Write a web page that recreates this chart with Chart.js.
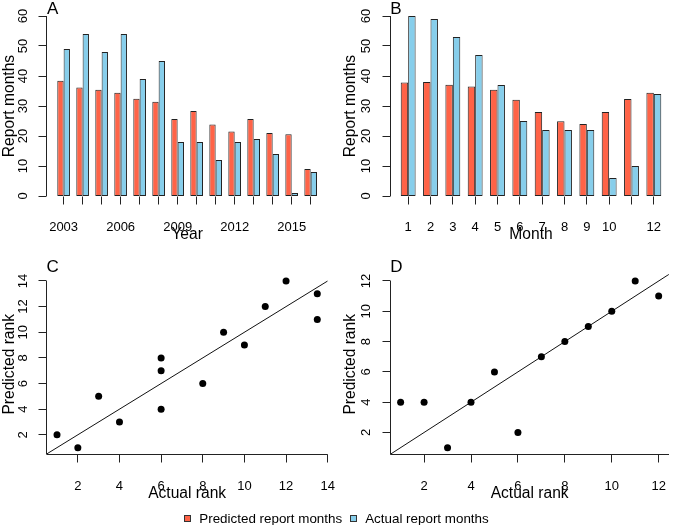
<!DOCTYPE html>
<html>
<head>
<meta charset="utf-8">
<script src="https://cdn.jsdelivr.net/npm/chart.js@4/dist/chart.umd.min.js"></script>
<style>
html, body { margin: 0; padding: 0; background: #fff; }
#wrap { position: relative; width: 673px; height: 525px; overflow: hidden; }
#wrap canvas { position: absolute; left: 0; top: 0; }
#legend { position: absolute; left: 0; top: 509px; width: 673px; height: 18px; display: flex; justify-content: center; align-items: center;
  font: 13.4px 'Liberation Sans', Arial, Helvetica, sans-serif; color: #000; white-space: nowrap; }
#legend .item { display: flex; align-items: center; margin: 0 4px; }
#legend .sw { width: 5px; height: 5px; border: 1px solid #333; margin-right: 8px; }
</style>
</head>
<body>
<div id="wrap">
  <canvas id="cA" width="673" height="525"></canvas>
  <canvas id="cB" width="673" height="525"></canvas>
  <canvas id="cC" width="673" height="525"></canvas>
  <canvas id="cD" width="673" height="525"></canvas>
  <div id="legend"></div>
</div>
<script>
// ---------------- data ----------------
const years = ['2003','2004','2005','2006','2007','2008','2009','2010','2011','2012','2013','2014','2015','2016'];
const yearTickLabels = ['2003','','','2006','','','2009','','','2012','','','2015',''];
const predictedByYear = [38.4, 36.2, 35.4, 34.4, 32.4, 31.4, 25.7, 28.3, 23.8, 21.5, 25.7, 21.0, 20.6, 9.0];
const actualByYear    = [49, 54, 48, 54, 39, 45, 18, 18, 12, 18, 19, 14, 1, 8];

const months = ['1','2','3','4','5','6','7','8','9','10','11','12'];
const monthTickLabels = ['1','2','3','4','5','6','7','8','9','10','','12'];
const predictedByMonth = [37.8, 38.0, 37.1, 36.5, 35.4, 32.1, 28.0, 24.9, 24.0, 28.0, 32.3, 34.4];
const actualByMonth    = [60, 59, 53, 47, 37, 25, 22, 22, 22, 6, 10, 34];

const barValueTicks = [0, 10, 20, 30, 40, 50, 60];

const yearRankActual    = [1, 2, 3, 4, 6, 6, 6, 8, 9, 10, 11, 12, 13.5, 13.5];
const yearRankPredicted = [2, 1, 5, 3, 4, 7, 8, 6, 10, 9, 12, 14, 13, 11];
const yearRankTicks = [2, 4, 6, 8, 10, 12, 14];

const monthRankActual    = [1, 2, 3, 4, 5, 6, 7, 8, 9, 10, 11, 12];
const monthRankPredicted = [4, 4, 1, 4, 6, 2, 7, 8, 9, 10, 12, 11];
const monthRankTicks = [2, 4, 6, 8, 10, 12];

const seriesNames = ['Predicted report months', 'Actual report months'];

// ---------------- axis limits (R-style 4% extension) ----------------
const limA = { x: [-0.88, 13.88], y: [0, 60] };
const limB = { x: [-0.8, 11.8],  y: [0, 60] };
const limC = { x: [0.5, 14.0],   y: [0.48, 14.52] };
const limD = { x: [0.56, 12.44], y: [0.56, 12.44] };

// ---------------- styling ----------------
const FONT = "'Liberation Sans', Arial, Helvetica, sans-serif";
const RED = '#FF6347';
const BLUE = '#87CEEB';
const INK = '#222';
const TICK = 8;

function alignPx(v) { return Math.round(v - 0.5) + 0.5; }

// R-like axes: axis lines, tick marks, rotated y labels, panel letter
const rStyle = {
  id: 'rStyle',
  afterDraw(chart, args, o) {
    const ctx = chart.ctx, ca = chart.chartArea;
    const xs = chart.scales.x, ys = chart.scales.y;
    const xL = alignPx(ca.left), yB = alignPx(ca.bottom);
    ctx.save();
    ctx.strokeStyle = INK; ctx.lineWidth = 1;
    ctx.beginPath();
    if (o.yLine) {
      ctx.moveTo(xL, ys.getPixelForValue(o.yLine[0]));
      ctx.lineTo(xL, ys.getPixelForValue(o.yLine[1]));
    }
    if (o.xLine) {
      ctx.moveTo(xs.getPixelForValue(o.xLine[0]), yB);
      ctx.lineTo(xs.getPixelForValue(o.xLine[1]), yB);
    }
    ys.ticks.forEach(t => {
      const p = alignPx(ys.getPixelForValue(t.value));
      ctx.moveTo(xL - TICK, p); ctx.lineTo(xL, p);
    });
    xs.ticks.forEach(t => {
      const p = alignPx(xs.getPixelForValue(t.value));
      ctx.moveTo(p, yB); ctx.lineTo(p, yB + TICK);
    });
    ctx.stroke();
    // rotated y tick labels (parallel to axis)
    ctx.fillStyle = '#000';
    ctx.font = '13px ' + FONT;
    ctx.textAlign = 'center';
    ctx.textBaseline = 'middle';
    ys.ticks.forEach(t => {
      const p = ys.getPixelForValue(t.value);
      ctx.save();
      ctx.translate(ca.left - 23.4, p);
      ctx.rotate(-Math.PI / 2);
      ctx.fillText(String(t.value), 0, 0);
      ctx.restore();
    });
    // panel letter
    ctx.font = '17px ' + FONT;
    ctx.textAlign = 'left';
    ctx.textBaseline = 'alphabetic';
    ctx.fillText(o.letter, ca.left, ca.top - 2.3);
    ctx.restore();
  }
};

function makeScales(c) {
  const gridOpt = { display: false, offset: false };
  return {
    x: {
      type: 'linear', min: c.lim.x[0], max: c.lim.x[1], offset: false,
      afterBuildTicks: s => { s.ticks = c.xTicks.map(v => ({ value: v })); },
      afterFit: s => { s.height = 48.4; s.paddingLeft = 0; s.paddingRight = 0; },
      ticks: {
        autoSkip: false, maxRotation: 0, minRotation: 0, padding: 16, color: '#000',
        font: { family: FONT, size: 13 },
        callback: (v, i) => c.xLabels ? c.xLabels[i] : String(v)
      },
      grid: gridOpt,
      border: { display: false },
      title: { display: true, text: c.xTitle, color: '#000', font: { family: FONT, size: 15.6 }, padding: 0 }
    },
    y: {
      type: 'linear', min: c.lim.y[0], max: c.lim.y[1], offset: false,
      afterBuildTicks: s => { s.ticks = c.yTicks.map(v => ({ value: v })); },
      afterFit: s => { s.width = c.yAxisW; s.paddingTop = 0; s.paddingBottom = 0; },
      ticks: { display: false },
      grid: gridOpt,
      border: { display: false },
      title: { display: true, text: c.yTitle, color: '#000', font: { family: FONT, size: 15.6 }, padding: 0 }
    }
  };
}

function baseOptions(c) {
  return {
    responsive: false,
    animation: false,
    devicePixelRatio: 1,
    events: [],
    layout: { padding: c.pad },
    scales: makeScales(c),
    plugins: {
      legend: { display: false },
      tooltip: { enabled: false },
      rStyle: { letter: c.letter, xLine: c.xLine, yLine: c.yLine }
    }
  };
}

function barChart(id, c, pred, act) {
  const barDs = (label, vals, color) => ({
    label, backgroundColor: color, borderColor: INK, borderWidth: 1, borderSkipped: false,
    categoryPercentage: 2 / 3, barPercentage: 1,
    data: vals.map((v, i) => ({ x: i, y: v }))
  });
  return new Chart(document.getElementById(id), {
    type: 'bar',
    data: { datasets: [barDs(seriesNames[0], pred, RED), barDs(seriesNames[1], act, BLUE)] },
    options: baseOptions(c),
    plugins: [rStyle]
  });
}

function rankChart(id, c, actual, predicted) {
  return new Chart(document.getElementById(id), {
    type: 'scatter',
    data: {
      datasets: [
        { data: actual.map((a, i) => ({ x: a, y: predicted[i] })), pointRadius: 3.5, backgroundColor: '#000', borderWidth: 0, order: 0 },
        { type: 'line', data: [{ x: c.lim.x[0], y: c.lim.x[0] }, { x: c.lim.x[1], y: c.lim.x[1] }],
          showLine: true, borderColor: '#111', borderWidth: 1, pointRadius: 0, fill: false, order: 1 }
      ]
    },
    options: baseOptions(c),
    plugins: [rStyle]
  });
}

const chartA = barChart('cA', {
  lim: limA, xTicks: years.map((_, i) => i), xLabels: yearTickLabels, yTicks: barValueTicks,
  xTitle: 'Year', yTitle: 'Report months', yAxisW: 46.9,
  pad: { left: 0, top: 16, right: 345.6, bottom: 280.6 },
  letter: 'A', yLine: [0, 60], xLine: null
}, predictedByYear, actualByYear);

const chartB = barChart('cB', {
  lim: limB, xTicks: months.map((_, i) => i), xLabels: monthTickLabels, yTicks: barValueTicks,
  xTitle: 'Month', yTitle: 'Report months', yAxisW: 48.7,
  pad: { left: 341.6, top: 16, right: 1.3, bottom: 280.6 },
  letter: 'B', yLine: [0, 60], xLine: null
}, predictedByMonth, actualByMonth);

rankChart('cC', {
  lim: limC, xTicks: yearRankTicks, xLabels: null, yTicks: yearRankTicks,
  xTitle: 'Actual rank', yTitle: 'Predicted rank', yAxisW: 46.6,
  pad: { left: 0, top: 274.3, right: 345.3, bottom: 22.3 },
  letter: 'C', yLine: [limC.y[0], 14], xLine: limC.x
}, yearRankActual, yearRankPredicted);

rankChart('cD', {
  lim: limD, xTicks: monthRankTicks, xLabels: null, yTicks: monthRankTicks,
  xTitle: 'Actual rank', yTitle: 'Predicted rank', yAxisW: 48.7,
  pad: { left: 341.6, top: 274.3, right: 1.3, bottom: 22.3 },
  letter: 'D', yLine: [limD.y[0], 12], xLine: limD.x
}, monthRankActual, monthRankPredicted);

// legend built from the datasets of chart A
const legendEl = document.getElementById('legend');
chartA.data.datasets.forEach(ds => {
  const item = document.createElement('div');
  item.className = 'item';
  const sw = document.createElement('span');
  sw.className = 'sw';
  sw.style.background = ds.backgroundColor;
  const tx = document.createElement('span');
  tx.textContent = ds.label;
  item.appendChild(sw); item.appendChild(tx);
  legendEl.appendChild(item);
});
</script>
</body>
</html>
